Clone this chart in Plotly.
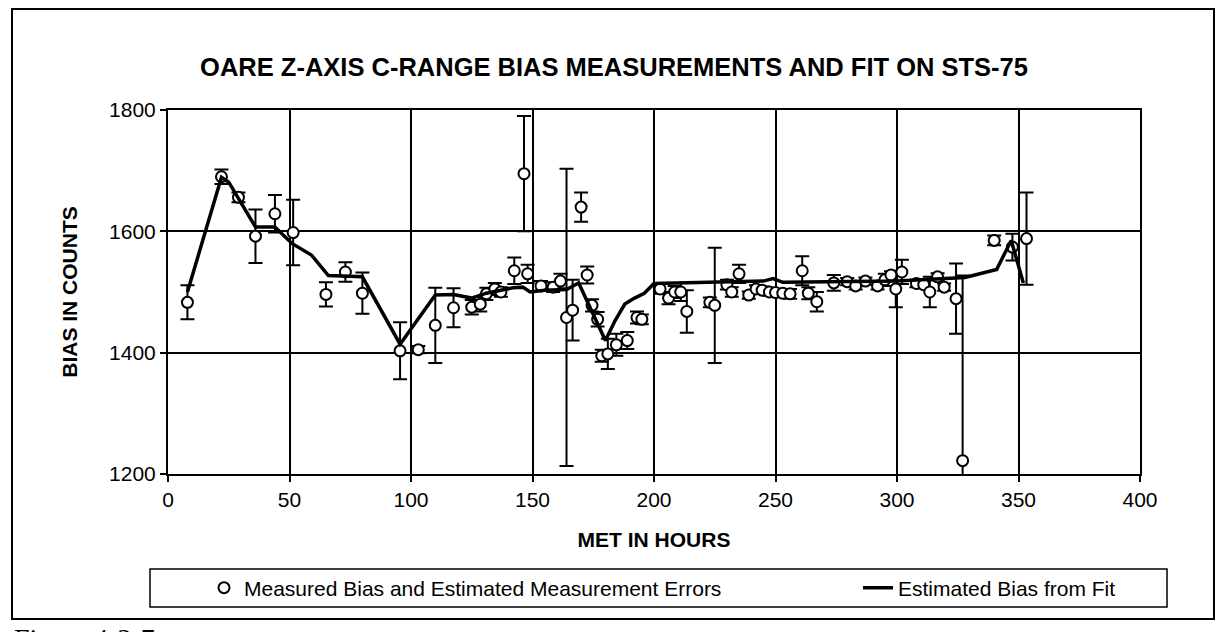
import plotly.graph_objects as go

# measured bias points (MET hours, counts, +/- error)
meas_hours = [8, 22, 29, 36, 44, 51.5, 65, 73, 80, 95.5, 103, 110, 117.5, 125, 128.5,
              131, 134.5, 137, 142.5, 146.5, 148, 153.5, 158.5, 161.5, 164, 166.5, 170,
              172.5, 174.5, 176.8, 178.5, 181, 184.5, 189, 193, 195, 202.5, 206, 208.5,
              211, 213.5, 223, 225, 230, 232, 235, 239, 242, 244.5, 247.5, 250, 253, 256,
              261, 263.5, 267, 274, 279.5, 283, 287, 292, 295, 297.5, 299.5, 302, 308,
              311, 313.5, 316.7, 319.4, 324.3, 327, 340, 347.5, 353.3]
meas_bias = [1483, 1690, 1656, 1592, 1629, 1598, 1496, 1533, 1498, 1403, 1405, 1445, 1474,
             1475, 1480, 1497, 1505, 1500, 1535, 1695, 1530, 1510, 1508, 1518, 1458, 1470,
             1640, 1528, 1478, 1455, 1395, 1398, 1413, 1420, 1458, 1455, 1505, 1490, 1500,
             1500, 1468, 1483, 1478, 1512, 1500, 1530, 1495, 1505, 1503, 1500, 1499, 1498,
             1497, 1535, 1498, 1484, 1515, 1517, 1510, 1518, 1510, 1520, 1528, 1505, 1533,
             1514, 1512, 1500, 1525, 1508, 1489, 1222, 1585, 1574, 1588]
meas_err = [28, 12, 8, 44, 31, 54, 20, 16, 34, 47, 6, 62, 32, 12, 12, 10, 10, 8, 22, 95, 15,
            8, 8, 12, 245, 50, 24, 14, 10, 12, 10, 25, 18, 14, 10, 8, 8, 10, 10, 15, 35, 8,
            95, 8, 8, 15, 6, 6, 6, 6, 6, 6, 8, 24, 10, 16, 13, 6, 6, 6, 6, 10, 6, 30, 20, 6,
            6, 25, 6, 6, 58, 305, 8, 22, 76]

# fitted bias curve
fit_hours = [8, 22, 25, 36, 44, 51, 59, 66, 80, 95.5, 110, 117.5, 125, 131, 137, 142, 146,
             149, 155, 164, 169, 180, 184, 188, 192, 196, 200, 225, 245, 249, 253, 300,
             328, 341, 347, 352]
fit_bias = [1500, 1689, 1681, 1607, 1607, 1580, 1561, 1527, 1525, 1414, 1495, 1496, 1490,
            1498, 1503, 1507, 1508, 1500, 1503, 1504, 1515, 1420, 1453, 1480, 1490, 1498,
            1514, 1516, 1518, 1522, 1516, 1518, 1524, 1537, 1585, 1515]

x_ticks = [0, 50, 100, 150, 200, 250, 300, 350, 400]
y_ticks = [1200, 1400, 1600, 1800]

FONT = "Liberation Sans, Arial, sans-serif"

# pixel layout of the plot area inside the 1217x632 page
W, H = 1217, 632
L, R, T, B = 168, 1140, 110, 474


def px(x):
    return (x - L) / (R - L)


def py(y):
    return (B - y) / (B - T)


fig = go.Figure()

fig.add_trace(go.Scatter(
    x=meas_hours, y=meas_bias, mode="markers",
    name="Measured Bias and Estimated Measurement Errors",
    marker=dict(symbol="circle", size=11, color="white",
                line=dict(color="black", width=2)),
    error_y=dict(type="data", array=meas_err, color="black", thickness=2, width=7),
    legend="legend",
))

fig.add_trace(go.Scatter(
    x=fit_hours, y=fit_bias, mode="lines",
    name="Estimated Bias from Fit",
    line=dict(color="black", width=3.5),
    legend="legend2",
))

axis_common = dict(
    showline=True, linecolor="black", linewidth=2, mirror=True,
    showgrid=True, gridcolor="black", gridwidth=1.5,
    ticks="outside", ticklen=6, tickcolor="black", tickwidth=1.5,
    tickfont=dict(family=FONT, size=21, color="black"),
    zeroline=False,
)

fig.update_xaxes(range=[0, 400], tickvals=x_ticks, **axis_common,
                 title=dict(text="<b>MET IN HOURS</b>", standoff=22,
                            font=dict(family=FONT, size=21, color="black")))
fig.update_yaxes(range=[1200, 1800], tickvals=y_ticks, **axis_common,
                 title=dict(text="<b>BIAS IN COUNTS</b>", standoff=26,
                            font=dict(family=FONT, size=21, color="black")))

legend_style = dict(orientation="h", xref="container", yref="container",
                    xanchor="left", y=1 - 588 / H, yanchor="middle",
                    bgcolor="rgba(0,0,0,0)", borderwidth=0,
                    font=dict(family=FONT, size=21, color="black"))

fig.update_layout(
    width=W, height=H,
    margin=dict(l=L, r=W - R, t=T, b=H - B, autoexpand=False),
    paper_bgcolor="white", plot_bgcolor="white",
    title=dict(text="<b>OARE Z-AXIS C-RANGE BIAS MEASUREMENTS AND FIT ON STS-75</b>",
               x=614 / W, xanchor="center", y=1 - 67 / H, yanchor="middle",
               font=dict(family=FONT, size=25.5, color="black")),
    legend=dict(x=204 / W, **legend_style),
    legend2=dict(x=858 / W, **legend_style),
    showlegend=True,
    shapes=[
        # outer chart border
        dict(type="rect", xref="paper", yref="paper",
             x0=px(12), x1=px(1214), y0=py(619), y1=py(9),
             line=dict(color="black", width=2)),
        # legend frame
        dict(type="rect", xref="paper", yref="paper",
             x0=px(150), x1=px(1167), y0=py(607), y1=py(569),
             line=dict(color="black", width=1.5)),
    ],
    annotations=[
        dict(text="Figure 4-2-7.", xref="paper", yref="paper",
             x=px(12), y=py(621), xanchor="left", yanchor="top", showarrow=False,
             font=dict(family="Liberation Serif, Times New Roman, serif", size=28,
                       color="black")),
    ],
)

# page has default body margin; drop it so the figure sits at the window origin
fig.write_html("out.html", config={"displayModeBar": False},
               post_script="document.body.style.margin='0';")
